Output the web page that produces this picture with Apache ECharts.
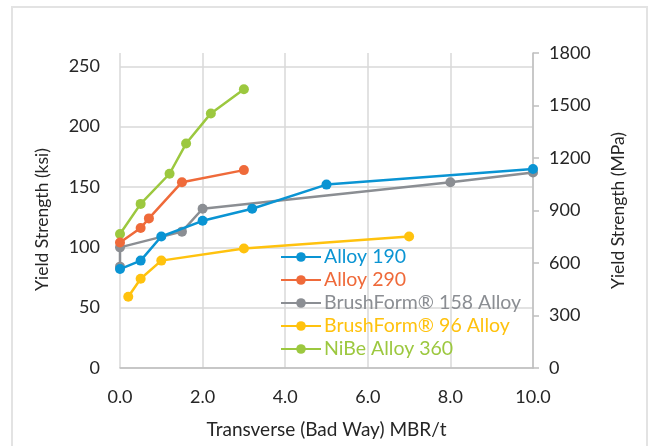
<!DOCTYPE html>
<html>
<head>
<meta charset="utf-8">
<script src="https://cdn.jsdelivr.net/npm/echarts@6/dist/echarts.min.js"></script>
<style>
  html, body { margin: 0; padding: 0; background: #fff; }
  #frame { position: absolute; left: 11px; top: 6px; width: 637px; height: 460px;
           border: 2px solid #e3e3e3; box-sizing: border-box; }
  #chart { position: absolute; left: 0; top: 0; width: 652px; height: 446px; }
</style>
</head>
<body>
<div id="frame"></div>
<div id="chart"></div>
<script>
// Data (x = Transverse MBR/t, y = Yield Strength in ksi)
const alloy190 = [[0, 82], [0.5, 89], [1.0, 109], [2.0, 122], [3.2, 132], [5.0, 152], [10.0, 165]];
const alloy290 = [[0, 104], [0.5, 116], [0.7, 124], [1.5, 154], [3.0, 164]];
const brushForm158 = [[0, 84], [0, 100], [1.5, 113], [2.0, 132], [8.0, 154], [10.0, 162]];
const brushForm96 = [[0.2, 59], [0.5, 74], [1.0, 89], [3.0, 99], [7.0, 109]];
const nibe360 = [[0, 111], [0.5, 136], [1.2, 161], [1.6, 186], [2.2, 211], [3.0, 231]];

const seriesNames = ['Alloy 190', 'Alloy 290', 'BrushForm® 158 Alloy', 'BrushForm® 96 Alloy', 'NiBe Alloy 360'];
const seriesData = [alloy190, alloy290, brushForm158, brushForm96, nibe360];
const colors = ['#0a94d3', '#ef6a3a', '#8b8e93', '#ffc20e', '#9cc83f'];

const xTicks = { min: 0, max: 10, interval: 2 };
const ksiTicks = { min: 0, interval: 50 };
const mpaTicks = { min: 0, max: 1800, interval: 300 };
const MPA_PER_KSI = 6.89476;

const FONT = 'Lato';
const chart = echarts.init(document.getElementById('chart'), null, { renderer: 'canvas' });

const gridGray = '#d9d9d9';
const ksiMax = mpaTicks.max / MPA_PER_KSI;

chart.setOption({
  backgroundColor: 'transparent',
  animation: false,
  color: colors,
  grid: { left: 120, right: 119, top: 53, bottom: 78, containLabel: false },
  legend: {
    orient: 'vertical',
    left: 275, top: 242,
    itemWidth: 40, itemHeight: 12, itemGap: 3,
    textStyle: { fontFamily: FONT, fontSize: 19.5, padding: [0, 0, 0, -2] },
    data: seriesNames.map((n, i) => ({ name: n, textStyle: { color: colors[i] } }))
  },
  xAxis: {
    type: 'value', min: xTicks.min, max: xTicks.max, interval: xTicks.interval,
    name: 'Transverse (Bad Way) MBR/t', nameLocation: 'middle', nameGap: 52,
    nameTextStyle: { fontFamily: FONT, fontSize: 19, color: '#262626' },
    axisLine: { show: true, lineStyle: { color: '#bfbfbf', width: 1.5 } },
    axisTick: { show: false },
    axisLabel: { fontFamily: FONT, fontSize: 18, color: '#262626', margin: 20,
                 formatter: v => v.toFixed(1) },
    splitLine: { show: true, lineStyle: { color: gridGray, width: 1.5 } }
  },
  yAxis: [
    {
      type: 'value', min: ksiTicks.min, max: ksiMax, interval: ksiTicks.interval,
      position: 'left',
      name: 'Yield Strength (ksi)', nameLocation: 'middle', nameGap: 69,
      nameTextStyle: { fontFamily: FONT, fontSize: 17.5, color: '#262626', padding: [0, 0, 0, -18] },
      axisLine: { show: false }, axisTick: { show: false },
      axisLabel: { fontFamily: FONT, fontSize: 18, color: '#262626', margin: 20,
                   showMaxLabel: false,
                   formatter: v => (Math.abs(v % 50) < 1e-6 ? String(v) : '') },
      splitLine: { show: true, lineStyle: { color: [gridGray, gridGray, gridGray, gridGray, gridGray, gridGray, 'rgba(0,0,0,0)'], width: 1.5 } }
    },
    {
      type: 'value', min: mpaTicks.min, max: mpaTicks.max, interval: mpaTicks.interval,
      position: 'right',
      name: 'Yield Strength (MPa)', nameLocation: 'middle', nameGap: 76,
      nameTextStyle: { fontFamily: FONT, fontSize: 17.5, color: '#262626' },
      axisLine: { show: true, lineStyle: { color: '#bfbfbf', width: 1.5 } },
      axisTick: { show: true, inside: false, length: 6, lineStyle: { color: '#bfbfbf', width: 1.5 } },
      axisLabel: { fontFamily: FONT, fontSize: 18, color: '#262626', margin: 16,
                   formatter: v => String(v) },
      splitLine: { show: false }
    }
  ],
  series: seriesData.map((d, i) => ({
    name: seriesNames[i],
    type: 'line',
    yAxisIndex: 0,
    data: d,
    symbol: 'circle',
    symbolSize: 10,
    lineStyle: { width: 2.5, color: colors[i] },
    itemStyle: { color: colors[i] },
    z: 2 + (seriesData.length - i)
  }))
});
</script>
</body>
</html>
